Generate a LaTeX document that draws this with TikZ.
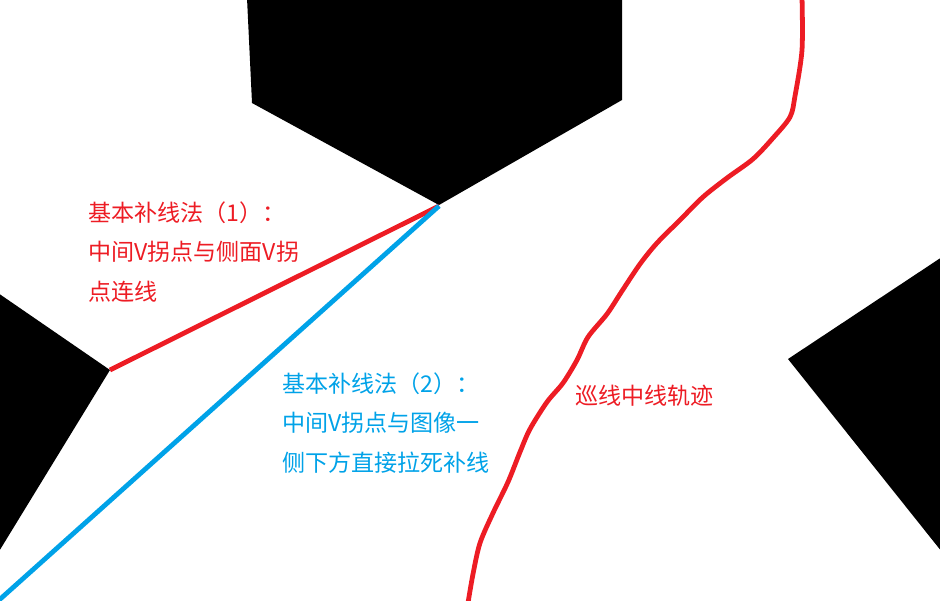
\documentclass[tikz,border=0pt]{standalone}
\usepackage{fontspec}
\newfontfamily\cjk{Noto Sans CJK SC}
\usetikzlibrary{positioning}
\definecolor{paintred}{HTML}{ED1C24}
\definecolor{paintblue}{HTML}{00A2E8}

\begin{document}
\begin{tikzpicture}[y=-0.025cm,x=0.025cm,
  note/.style={anchor=north west,inner sep=0pt,align=left,font=\cjk\fontsize{16.4}{28.4}\selectfont},
  patchline/.style={line width=3.4pt}]
  \useasboundingbox (0,0) rectangle (940,600);
  % black track borders
  \fill (247,-2)--(252,103)--(439,205)--(622,100)--(622,-2)--cycle;
  \fill (-2,293)--(110,370)--(-2,553)--cycle;
  \fill (942,257)--(788,359)--(942,552)--cycle;
  % V turning points
  \coordinate (vmid) at (439,206);
  \coordinate (vside) at (110,370);
  \coordinate (vcorner) at (-2,601);
  \draw[paintred,patchline] (vside)--(vmid);
  \draw[paintblue,patchline] (vmid)--(vcorner);
  % centre line trace
  \draw[paintred,patchline,line cap=round] plot[smooth,tension=0.5] coordinates {
    (802,-3) (802,50) (795,96) (790,117) (773,138) (753,159) (727,178) (703,197)
    (680,220) (657,243) (640,264) (622,291) (607,314) (588,337) (577,360)
    (563,383) (547,402) (530,429) (520,452) (508,482) (493,513) (480,543)
    (473,574) (468,603)};
  % labels
  \node[note,paintred] (method1) at (88,201) {基本补线法（1）：\\中间V拐点与侧面V拐\\点连线};
  \node[note,paintblue] (method2) at (282,372) {基本补线法（2）：\\中间V拐点与图像一\\侧下方直接拉死补线};
  \node[note,paintred] (trace) at (575,385) {巡线中线轨迹};
\end{tikzpicture}
\end{document}
